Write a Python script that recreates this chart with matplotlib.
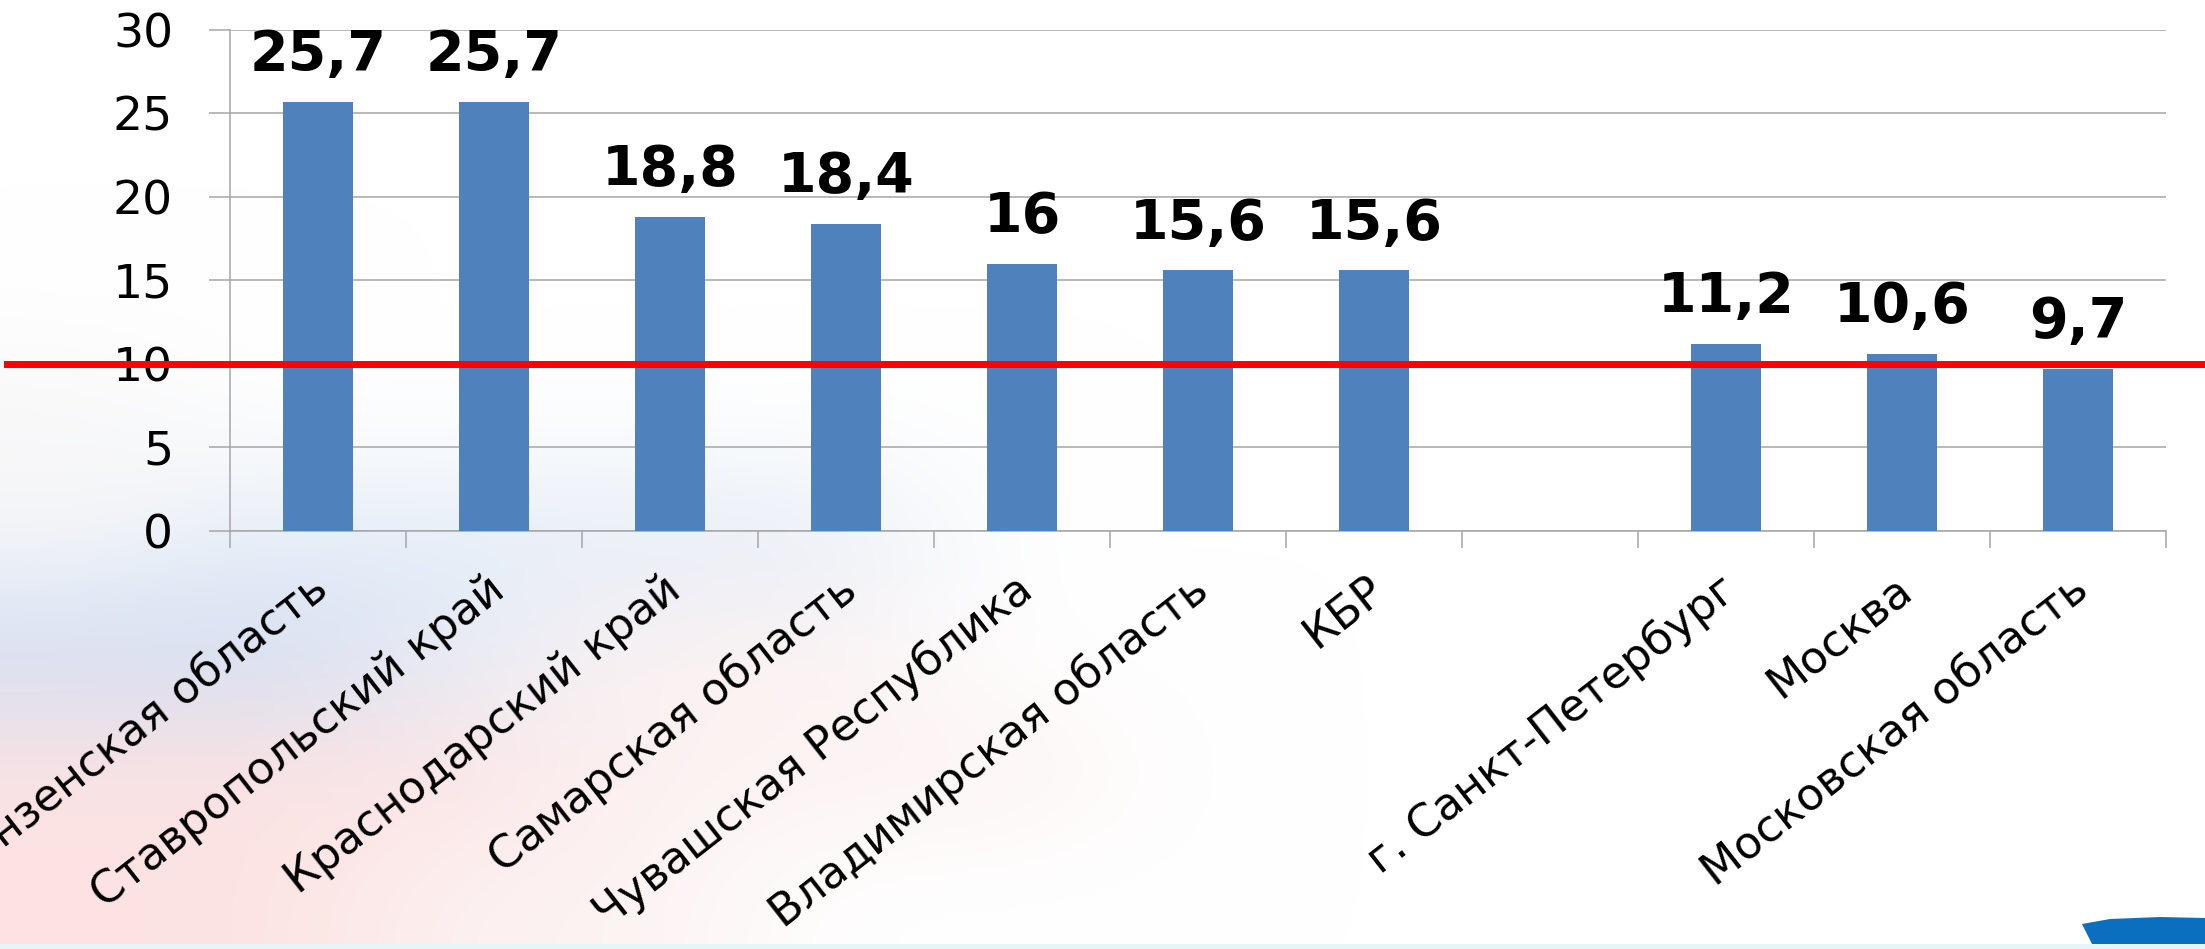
import numpy as np
import matplotlib.pyplot as plt
import matplotlib.transforms as mtransforms
from matplotlib.patches import Polygon, Rectangle

plt.rcParams['font.family'] = ['DejaVu Sans']

# data (one empty slot between КБР and Санкт-Петербург)
regions = ['Пензенская область', 'Ставропольский край', 'Краснодарский край',
           'Самарская область', 'Чувашская Республика', 'Владимирская область',
           'КБР', '', 'г. Санкт-Петербург', 'Москва', 'Московская область']
values = [25.7, 25.7, 18.8, 18.4, 16, 15.6, 15.6, None, 11.2, 10.6, 9.7]
threshold = 10
yticks = [0, 5, 10, 15, 20, 25, 30]

bar_color = '#4F81BD'
grid_color = '#A6A6A6'

fig = plt.figure(figsize=(22.05, 9.49), dpi=100)

# faint blurred flag-like backdrop of the slide
W = (1.0, 1.0, 1.0)
G = (0.97, 0.97, 0.975)
LB = (0.90, 0.93, 0.97)
B = (0.82, 0.87, 0.95)
LP = (0.99, 0.95, 0.95)
P = (0.99, 0.89, 0.89)
bg_colors = [
    [W, W, W, W, W, W, W, W, W, W, W, W],
    [W, W, W, W, W, W, W, W, W, W, W, W],
    [W, W, W, W, W, W, W, W, W, W, W, W],
    [G, W, W, W, W, W, W, W, W, W, W, W],
    [G, LB, LB, LB, LB, W, W, W, W, W, W, W],
    [B, B, LB, LP, LP, W, W, W, W, W, W, W],
    [P, P, P, LP, LP, LP, W, W, W, W, W, W],
    [P, P, LP, LP, W, W, W, W, W, W, W, W],
]
bg = fig.add_axes([0, 0, 1, 1], zorder=-10)
bg.imshow(np.array(bg_colors), extent=(0, 1, 0, 1), aspect='auto',
          interpolation='bicubic', origin='upper')
bg.set_xlim(0, 1)
bg.set_ylim(0, 1)
bg.axis('off')
bg.add_patch(Rectangle((0, 0), 1, 5 / 949, color='#e6f5f8', lw=0))
bg.add_patch(Polygon([(2082 / 2205, 1 - 924 / 949), (2110 / 2205, 1 - 919 / 949),
                      (2160 / 2205, 1 - 917 / 949), (1.0, 1 - 918 / 949),
                      (1.0, 5 / 949), (2092 / 2205, 5 / 949)],
                     closed=True, color='#0b6fc0', lw=0))

ax = fig.add_axes([0.1043, 0.4405, 0.878, 0.5279])
ax.patch.set_alpha(0)

x = np.arange(len(regions))
bx = [i for i, v in zip(x, values) if v is not None]
bv = [v for v in values if v is not None]
ax.bar(bx, bv, width=0.4, color=bar_color, zorder=3)

for i, v in zip(bx, bv):
    label = f'{v:g}'.replace('.', ',')
    ax.annotate(label, (i, v), xytext=(0, 23), textcoords='offset points',
                ha='center', va='baseline', fontsize=40, fontweight='bold',
                color='black')

ax.set_xlim(-0.5, len(regions) - 0.5)
ax.set_ylim(0, 30)
ax.set_yticks(yticks)
ax.yaxis.grid(True, color=grid_color, lw=1.1)
ax.set_axisbelow(True)

for s in ['top', 'right']:
    ax.spines[s].set_visible(False)
for s in ['left', 'bottom']:
    ax.spines[s].set_color(grid_color)
    ax.spines[s].set_linewidth(1.1)

ax.tick_params(axis='y', length=15, width=1.1, color=grid_color,
               labelsize=34, pad=26)

ax.set_xticks(x)
ax.set_xticks(np.arange(len(regions) + 1) - 0.5, minor=True)
ax.tick_params(axis='x', which='major', length=0, pad=26)
ax.tick_params(axis='x', which='minor', length=12, width=1.1, color=grid_color)
ax.set_xticklabels(regions, rotation=38, ha='right', va='top',
                   rotation_mode='anchor', fontsize=32)
shift = mtransforms.ScaledTranslation(-0.08, 0, fig.dpi_scale_trans)
for lab in ax.get_xticklabels():
    lab.set_transform(lab.get_transform() + shift)

# red threshold line running across the whole slide
line_tr = mtransforms.blended_transform_factory(fig.transFigure, ax.transData)
ax.plot([0.003, 1.0], [threshold, threshold], transform=line_tr,
        color='#ff0000', lw=5, clip_on=False, zorder=6)

fig.savefig('out.png', dpi=100)
